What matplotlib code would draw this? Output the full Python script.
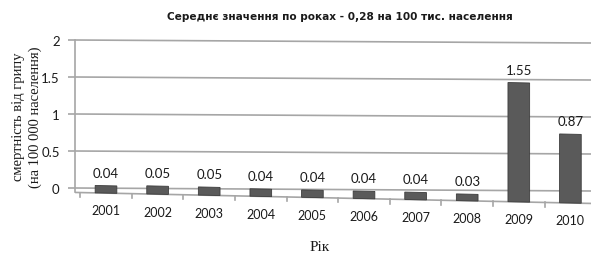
import matplotlib
matplotlib.use("Agg")
import numpy as np
import matplotlib.pyplot as plt
from matplotlib.transforms import Affine2D

years = ["2001", "2002", "2003", "2004", "2005", "2006", "2007", "2008", "2009", "2010"]
deaths = [0.04, 0.05, 0.05, 0.04, 0.04, 0.04, 0.04, 0.03, 1.55, 0.87]
value_labels = ["0.04", "0.05", "0.05", "0.04", "0.04", "0.04", "0.04", "0.03", "1.55", "0.87"]
y_ticks = [0, 0.5, 1, 1.5, 2]
y_tick_labels = ["0", "0.5", "1", "1.5", "2"]

title = "Середнє значення по роках - 0,28 на 100 тис. населення"
ylabel_1 = "смертність від грипу"
ylabel_2 = "(на 100 000 населення)"
xlabel = "Рік"

DPI = 100
W, H = 591, 255
AX_L, AX_R, AX_T, AX_B = 75, 591, 38, 215   # axes box in pixels (from top-left)
ZERO_PX, UNIT_PX = 189, 74                   # y=0 pixel row and px per unit
CAT0_PX, CAT_STEP = 106, 51.6

BAR_COLOR = "#5a5a5a"
GRID_COLOR = "#a6a6a6"
TXT = "#1a1a1a"

fig = plt.figure(figsize=(W / DPI, H / DPI), dpi=DPI)
ax = fig.add_axes([AX_L / W, (H - AX_B) / H, (AX_R - AX_L) / W, (AX_B - AX_T) / H])
ax.set_xlim(-(CAT0_PX - AX_L) / CAT_STEP, (AX_R - CAT0_PX) / CAT_STEP)
ax.set_ylim(-(AX_B - ZERO_PX) / UNIT_PX, (ZERO_PX - AX_T) / UNIT_PX)
for s in ax.spines.values():
    s.set_visible(False)
ax.set_xticks([])


def skewed(drop_px):
    # fake perspective: things slope down to the right
    a = np.arctan(-drop_px / (AX_R - AX_L))
    return ax.transData + Affine2D().translate(-AX_L, 0).skew(0, a).translate(AX_L, 0)


floor_tr = skewed(11)
wall_tr = skewed(3)

x = np.arange(len(years))

# back wall gridlines
for v in y_ticks:
    ax.plot(ax.get_xlim(), [v, v], color=GRID_COLOR, lw=1.2, transform=wall_tr, zorder=1)

# y axis line and ticks
ax.plot([ax.get_xlim()[0]] * 2, [-0.06, 2], color=GRID_COLOR, lw=1.2, zorder=1, clip_on=False)
ax.set_yticks(y_ticks)
ax.set_yticklabels(y_tick_labels, fontsize=9.5, family="Lato", color=TXT)
ax.tick_params(axis="y", length=5, color=GRID_COLOR, width=1.2, pad=6)

# floor front edge + category ticks
front = -0.06
ax.plot(ax.get_xlim(), [front, front], color=GRID_COLOR, lw=1.2, transform=floor_tr, zorder=2)
for b in np.arange(-0.5, len(years), 1.0):
    ax.plot([b, b], [front, front - 0.06], color=GRID_COLOR, lw=1.2, transform=floor_tr, zorder=2)

# bars
heights = [d - front for d in deaths]
ax.bar(x, heights, bottom=front, width=0.42, color=BAR_COLOR, edgecolor="#3c3c3c",
       lw=0.6, transform=floor_tr, zorder=3)

# value labels
for xi, d, lab in zip(x, deaths, value_labels):
    ax.annotate(lab, (xi, d), xycoords=floor_tr, xytext=(0, 13), textcoords="offset pixels",
                ha="center", va="center", fontsize=9.5, family="Lato", color=TXT)

# category labels
for xi, yr in zip(x, years):
    ax.text(xi, front - 0.235, yr, transform=floor_tr, ha="center", va="center",
            fontsize=9, family="Lato", color=TXT, clip_on=False)

fig.text(340 / W, 1 - 17 / H, title, ha="center", va="center", fontsize=7.6,
         fontweight="bold", family="DejaVu Sans", color=TXT)
fig.text(19 / W, 1 - 117 / H, ylabel_1, rotation=90, ha="center", va="center",
         fontsize=10.5, family="Liberation Serif", color=TXT)
fig.text(35 / W, 1 - 117 / H, ylabel_2, rotation=90, ha="center", va="center",
         fontsize=10.5, family="Liberation Serif", color=TXT)
fig.text(320 / W, 1 - 248 / H, xlabel, ha="center", va="center",
         fontsize=11, family="Liberation Serif", color=TXT)

fig.savefig("out.png", dpi=DPI)
